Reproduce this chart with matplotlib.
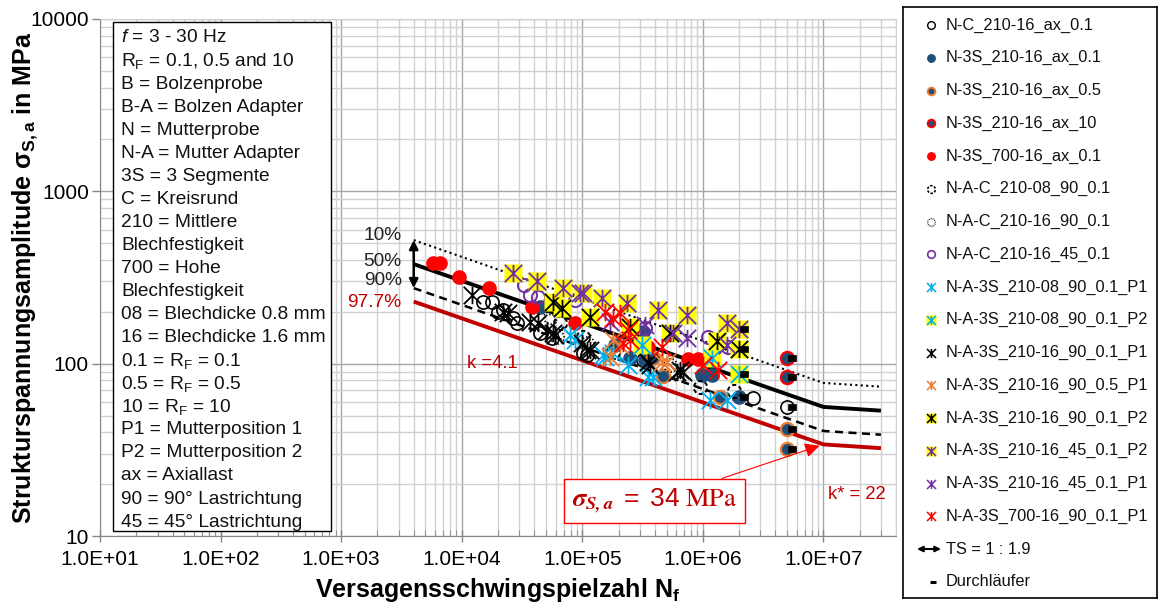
import numpy as np
import matplotlib
matplotlib.use("Agg")
import matplotlib.pyplot as plt
from matplotlib.path import Path
from matplotlib.patches import Rectangle
from matplotlib.ticker import FuncFormatter, FixedLocator, NullFormatter

plt.rcParams['font.family'] = ['Liberation Sans', 'DejaVu Sans']
plt.rcParams['mathtext.fontset'] = 'custom'
plt.rcParams['mathtext.rm'] = 'Liberation Sans'
plt.rcParams['mathtext.it'] = 'Liberation Sans:italic'
plt.rcParams['mathtext.bf'] = 'Liberation Sans:bold'
plt.rcParams['mathtext.default'] = 'regular'

# ---------------------------------------------------------------- test data
# cycles to failure N_f and structural stress amplitude sigma_S,a [MPa]
nc_210_16_ax01_N = [15100, 17900, 20100, 22100, 26700, 28900, 44800, 56300, 102000, 110000, 321000, 2.6e6, 5e6]
nc_210_16_ax01_S = [228, 228, 199, 205, 184, 172, 151, 141, 115, 112, 105, 63, 56]

n3s_210_16_ax01_N = [45000, 188000, 250000, 321000, 333000, 991000, 1.2e6, 2e6]
n3s_210_16_ax01_S = [213, 128, 108, 153, 105, 86, 86, 64]

n3s_210_16_ax05_N = [388000, 470000, 1.4e6, 5e6, 5e6]
n3s_210_16_ax05_S = [108, 85, 64, 42, 32]

n3s_210_16_ax10_N = [5e6, 5e6]
n3s_210_16_ax10_S = [108, 84]

n3s_700_16_ax01_N = [5800, 6640, 9530, 16900, 38500, 87500, 350000, 758000, 918000]
n3s_700_16_ax01_S = [384, 384, 318, 275, 213, 172, 125, 106, 106]

nac_210_08_90_01_N = [65600, 102000, 181000, 953000, 1.8e6]
nac_210_08_90_01_S = [172, 143, 117, 73, 69]

nac_210_16_90_01_N = [56300, 54200, 62000, 110000, 537000]
nac_210_16_90_01_S = [210, 186, 143, 132, 98]

nac_210_16_45_01_N = [33000, 37000, 43100, 87500, 333000, 1.11e6, 1.63e6]
nac_210_16_45_01_S = [286, 250, 244, 234, 161, 143, 125]

na3s_210_08_90_01_p1_N = [79400, 87500, 149000, 155000, 181000, 241000, 353000, 388000, 1.15e6, 1.6e6]
na3s_210_08_90_01_p1_S = [147, 137, 112, 109, 115, 98, 84, 84, 61.5, 61.5]

na3s_210_08_90_01_p2_N = [315000, 1.2e6, 2e6]
na3s_210_08_90_01_p2_S = [128, 108, 87]

na3s_210_16_90_01_p1_N = [12200, 22100, 24300, 37000, 43100, 51200, 57400, 59700, 100000, 110000,
                          116000, 353000, 366000, 614000, 650000, 689000]
na3s_210_16_90_01_p1_S = [250, 199, 197, 174, 172, 157, 151, 147, 132, 120, 120, 102, 98, 89, 92, 89]

na3s_210_16_90_05_p1_N = [171000, 181000, 207000, 461000, 507000]
na3s_210_16_90_05_p1_S = [109, 137, 128, 102, 102]

na3s_210_16_90_01_p2_N = [57400, 68200, 116000, 250000, 537000, 1.32e6, 2e6]
na3s_210_16_90_01_p2_S = [228, 210, 186, 163, 151, 135, 122]

na3s_210_16_45_01_p2_N = [26700, 42300, 69500, 102000, 147000, 236000, 427000, 743000, 1.6e6, 2e6]
na3s_210_16_45_01_p2_S = [336, 302, 275, 257, 240, 225, 205, 191, 172, 159]

na3s_210_16_45_01_p1_N = [96200, 171000, 333000, 569000, 743000, 1.6e6]
na3s_210_16_45_01_p1_S = [257, 174, 168, 151, 141, 128]

na3s_700_16_90_01_p1_N = [155000, 181000, 207000, 219000, 241000, 250000, 461000, 1.01e6, 1.34e6]
na3s_700_16_90_01_p1_S = [199, 184, 197, 132, 157, 137, 125, 98, 92]

# run-outs (Durchläufer)
runout_N = [2e6, 2e6, 2e6, 2e6, 5e6, 5e6, 5e6, 5e6, 5e6]
runout_S = [159, 122, 87, 64, 108, 84, 56, 42, 32]

# axis ticks
x_ticks = [1e1, 1e2, 1e3, 1e4, 1e5, 1e6, 1e7]
y_ticks = [10, 100, 1000, 10000]

# S-N curve: slopes, knee point, scatter band
k_slope = 4.1
k_star = 22
N_first = 4e3
N_knee = 1e7
N_last = 3e7
quantile_labels = ['10%', '50%', '90%', '97.7%']
sigma_knee = [77.3, 56.1, 40.7, 34.0]
sigma_design = 34

info_lines = [
    r'$\mathit{f}$ = 3 - 30 Hz',
    r'R$_F$ = 0.1, 0.5 and 10',
    'B = Bolzenprobe',
    'B-A = Bolzen Adapter',
    'N = Mutterprobe',
    'N-A = Mutter Adapter',
    '3S = 3 Segmente',
    'C = Kreisrund',
    '210 = Mittlere',
    'Blechfestigkeit',
    '700 = Hohe',
    'Blechfestigkeit',
    '08 = Blechdicke 0.8 mm',
    '16 = Blechdicke 1.6 mm',
    r'0.1 = R$_F$ = 0.1',
    r'0.5 = R$_F$ = 0.5',
    r'10 = R$_F$ = 10',
    'P1 = Mutterposition 1',
    'P2 = Mutterposition 2',
    'ax = Axiallast',
    '90 = 90° Lastrichtung',
    '45 = 45° Lastrichtung',
]

# ---------------------------------------------------------------- markers
def star_marker():
    v = [(-1, -1), (1, 1), (-1, 1), (1, -1), (0, -1), (0, 1)]
    c = [Path.MOVETO, Path.LINETO] * 3
    return Path(v, c)


def broken_circle(n, on, start=0.0):
    verts, codes = [], []
    for i in range(n):
        a0 = start + 2 * np.pi * i / n
        t = np.linspace(a0, a0 + 2 * np.pi / n * on, 8)
        verts.extend(np.column_stack([np.cos(t), np.sin(t)]))
        codes.extend([Path.MOVETO] + [Path.LINETO] * 7)
    return Path(verts, codes)


def runout_marker():
    v = [(0.1, -0.3), (1, -0.3), (1, 0.3), (0.1, 0.3), (0.1, -0.3)]
    return Path(v, [Path.MOVETO, Path.LINETO, Path.LINETO, Path.LINETO, Path.CLOSEPOLY])


STAR = star_marker()
DASHED = broken_circle(6, 0.6, np.pi / 12)
DOTTED = broken_circle(12, 0.4)

DARKBLUE = '#1F4E79'
ORANGE = '#ED7D31'
RED = '#FF0000'
PURPLE = '#7030A0'
LIGHTBLUE = '#00B0F0'
YELLOW = '#FFFF00'
DARKRED = '#C00000'

# label, N, S, marker kind, marker, edge colour, face colour, edge width, yellow backing
series = [
    ('N-C_210-16_ax_0.1', nc_210_16_ax01_N, nc_210_16_ax01_S, 'c', 'o', 'black', 'none', 1.2, False),
    ('N-3S_210-16_ax_0.1', n3s_210_16_ax01_N, n3s_210_16_ax01_S, 'c', 'o', DARKBLUE, DARKBLUE, 1.0, False),
    ('N-3S_210-16_ax_0.5', n3s_210_16_ax05_N, n3s_210_16_ax05_S, 'c', 'o', ORANGE, DARKBLUE, 1.6, False),
    ('N-3S_210-16_ax_10', n3s_210_16_ax10_N, n3s_210_16_ax10_S, 'c', 'o', RED, DARKBLUE, 1.6, False),
    ('N-3S_700-16_ax_0.1', n3s_700_16_ax01_N, n3s_700_16_ax01_S, 'c', 'o', RED, RED, 1.0, False),
    ('N-A-C_210-08_90_0.1', nac_210_08_90_01_N, nac_210_08_90_01_S, 'c', DASHED, 'black', 'none', 1.4, False),
    ('N-A-C_210-16_90_0.1', nac_210_16_90_01_N, nac_210_16_90_01_S, 'c', DOTTED, 'black', 'none', 1.2, False),
    ('N-A-C_210-16_45_0.1', nac_210_16_45_01_N, nac_210_16_45_01_S, 'c', 'o', PURPLE, 'none', 1.4, False),
    ('N-A-3S_210-08_90_0.1_P1', na3s_210_08_90_01_p1_N, na3s_210_08_90_01_p1_S, 's', STAR, LIGHTBLUE, 'none', 1.3, False),
    ('N-A-3S_210-08_90_0.1_P2', na3s_210_08_90_01_p2_N, na3s_210_08_90_01_p2_S, 's', STAR, LIGHTBLUE, 'none', 1.3, True),
    ('N-A-3S_210-16_90_0.1_P1', na3s_210_16_90_01_p1_N, na3s_210_16_90_01_p1_S, 's', STAR, 'black', 'none', 1.3, False),
    ('N-A-3S_210-16_90_0.5_P1', na3s_210_16_90_05_p1_N, na3s_210_16_90_05_p1_S, 's', STAR, ORANGE, 'none', 1.3, False),
    ('N-A-3S_210-16_90_0.1_P2', na3s_210_16_90_01_p2_N, na3s_210_16_90_01_p2_S, 's', STAR, 'black', 'none', 1.3, True),
    ('N-A-3S_210-16_45_0.1_P2', na3s_210_16_45_01_p2_N, na3s_210_16_45_01_p2_S, 's', STAR, PURPLE, 'none', 1.3, True),
    ('N-A-3S_210-16_45_0.1_P1', na3s_210_16_45_01_p1_N, na3s_210_16_45_01_p1_S, 's', STAR, PURPLE, 'none', 1.3, False),
    ('N-A-3S_700-16_90_0.1_P1', na3s_700_16_90_01_p1_N, na3s_700_16_90_01_p1_S, 's', STAR, RED, 'none', 1.3, False),
]


def draw_marker(axis, x, y, kind, marker, ec, fc, mew, backing, scale, z):
    size_c, size_s, size_q = (9.5, 12.5, 13.5) if scale == 'plot' else (5.5, 6.5, 7.2)
    if backing:
        axis.plot(x, y, ls='none', marker='s', ms=size_q, mfc=YELLOW, mec='none', zorder=z, clip_on=False)
    ms = size_c if kind == 'c' else size_s
    if scale != 'plot':
        mew = mew * 0.85
    axis.plot(x, y, ls='none', marker=marker, ms=ms, mfc=fc, mec=ec, mew=mew, zorder=z, clip_on=False)


# ---------------------------------------------------------------- figure
fig = plt.figure(figsize=(11.59, 6.08), dpi=100)
ax = fig.add_axes([100 / 1159, 72 / 608, 796 / 1159, 517 / 608])
ax.set_xscale('log')
ax.set_yscale('log')
ax.set_xlim(10, 4e7)
ax.set_ylim(10, 1e4)

x_minor = [m * d for d in x_ticks for m in range(2, 10) if m * d <= 4e7]
y_minor = [m * d for d in y_ticks[:-1] for m in range(2, 10)]
ax.xaxis.set_major_locator(FixedLocator(x_ticks))
ax.xaxis.set_minor_locator(FixedLocator(x_minor))
ax.yaxis.set_major_locator(FixedLocator(y_ticks))
ax.yaxis.set_minor_locator(FixedLocator(y_minor))
ax.xaxis.set_minor_formatter(NullFormatter())
ax.yaxis.set_minor_formatter(NullFormatter())
ax.xaxis.set_major_formatter(FuncFormatter(lambda v, p: f"{v:.1E}"))
ax.yaxis.set_major_formatter(FuncFormatter(lambda v, p: f"{v:.0f}"))

ax.grid(which='major', color='#A6A6A6', lw=1.0)
ax.grid(which='minor', color='#D0D0D0', lw=1.0)
ax.set_axisbelow(True)

ax.tick_params(axis='x', which='major', direction='inout', length=8, width=1,
               color='#868686', labelsize=15, pad=6)
ax.tick_params(axis='x', which='minor', direction='in', length=4, color='#868686')
ax.tick_params(axis='y', which='major', direction='out', length=6, width=1,
               color='#868686', labelsize=15, pad=2)
ax.tick_params(axis='y', which='minor', length=0)
for side in ('left', 'bottom'):
    ax.spines[side].set_color('#868686')
for side in ('top', 'right'):
    ax.spines[side].set_color('#D0D0D0')

ax.set_xlabel('Versagensschwingspielzahl N$_\\mathbf{f}$', fontsize=18, fontweight='bold')
ax.set_ylabel('Strukturspannungsamplitude σ$_\\mathbf{S,a}$ in MPa', fontsize=18, fontweight='bold')
ax.xaxis.set_label_coords(0.5, -0.077)
ax.yaxis.set_label_coords(-0.076, 0.5)

# S-N curves with knee point at N_knee
line_styles = [
    dict(color='black', lw=1.5, ls=(0, (1, 1.6))),
    dict(color='black', lw=2.8, ls='-'),
    dict(color='black', lw=1.8, ls=(0, (3.2, 2.2))),
    dict(color=DARKRED, lw=2.8, ls='-'),
]
curve_N = [N_first, N_knee, N_last]
start_values = []
for s_k, style in zip(sigma_knee, line_styles):
    curve_S = [s_k * (N_knee / N_first) ** (1 / k_slope), s_k, s_k * (N_knee / N_last) ** (1 / k_star)]
    start_values.append(curve_S[0])
    ax.plot(curve_N, curve_S, zorder=2, solid_capstyle='butt', **style)

# scatter band labels
label_offsets = [(-12, 5), (-12, 3), (-12, 8), (-12, -1)]
label_colors = ['#222222', '#222222', '#222222', DARKRED]
for lab, s0, off, col in zip(quantile_labels, start_values, label_offsets, label_colors):
    ax.annotate(lab, xy=(N_first, s0), xytext=off, textcoords='offset pixels',
                ha='right', va='center', fontsize=13.8, color=col, zorder=6)

# TS arrow between 10% and 90%
ax.annotate('', xy=(N_first, start_values[0]), xytext=(N_first, start_values[2]),
            arrowprops=dict(arrowstyle='<|-|>', color='black', lw=1.8, mutation_scale=13,
                            shrinkA=0, shrinkB=0), zorder=6)

ax.text(17900, 100, 'k =4.1', color=DARKRED, fontsize=13.3, ha='center', va='center', zorder=6)
ax.text(1.91e7, 17.5, 'k* = 22', color=DARKRED, fontsize=13.3, ha='center', va='center', zorder=6)

ax.annotate(r'$\mathbfit{\sigma_{S,a}}\ =\ 34\ \mathrm{MPa}$', xy=(N_knee, sigma_design),
            xytext=(3.96e5, 15.95), ha='center', va='center', color=DARKRED, fontsize=19,
            math_fontfamily='stix',
            bbox=dict(boxstyle='square,pad=0.3', fc='white', ec=RED, lw=1.0),
            arrowprops=dict(arrowstyle='-|>', color=RED, lw=0.8, mutation_scale=22,
                            shrinkA=0, shrinkB=3),
            zorder=7)

# test points
for i, (lab, N, S, kind, mk, ec, fc, mew, back) in enumerate(series):
    draw_marker(ax, N, S, kind, mk, ec, fc, mew, back, 'plot', 3 + i * 0.01)
ax.plot(runout_N, runout_S, ls='none', marker=runout_marker(), ms=13, mfc='black',
        mec='black', mew=0.5, zorder=4)

# explanation box
ax.add_patch(Rectangle(((113 - 100) / 796, (536 - 531) / 517), 218 / 796, 509 / 517,
                       transform=ax.transAxes, fc='white', ec='black', lw=1.0, zorder=8))
for i, line in enumerate(info_lines):
    py = 38 + i * 23.05
    ax.text((121 - 100) / 796, (536 - py) / 517, line, transform=ax.transAxes,
            ha='left', va='center', fontsize=13.8, color='#111111', zorder=9)

# legend panel
lax = fig.add_axes([903 / 1159, 10 / 608, 254 / 1159, 591 / 608])
lax.set_xlim(0, 254)
lax.set_ylim(591, 0)
lax.set_xticks([])
lax.set_yticks([])
for sp in lax.spines.values():
    sp.set_color('black')
    sp.set_linewidth(1.2)

row_gap = 32.75
for i, (lab, N, S, kind, mk, ec, fc, mew, back) in enumerate(series):
    y = 18 + i * row_gap
    draw_marker(lax, [28], [y], kind, mk, ec, fc, mew, back, 'legend', 3)
    lax.text(43, y, lab, ha='left', va='center', fontsize=11.8, color='#111111')

y_ts = 18 + 16 * row_gap
lax.annotate('', xy=(38, y_ts), xytext=(14, y_ts),
             arrowprops=dict(arrowstyle='<|-|>', color='black', lw=1.5, mutation_scale=8,
                             shrinkA=0, shrinkB=0))
lax.text(43, y_ts, 'TS = 1 : 1.9', ha='left', va='center', fontsize=11.8, color='#111111')
y_ro = 18 + 17 * row_gap
lax.plot([30], [y_ro], ls='none', marker='_', ms=5, mew=2.2, color='black')
lax.text(43, y_ro, 'Durchläufer', ha='left', va='center', fontsize=11.8, color='#111111')

fig.savefig('out.png', dpi=100)
